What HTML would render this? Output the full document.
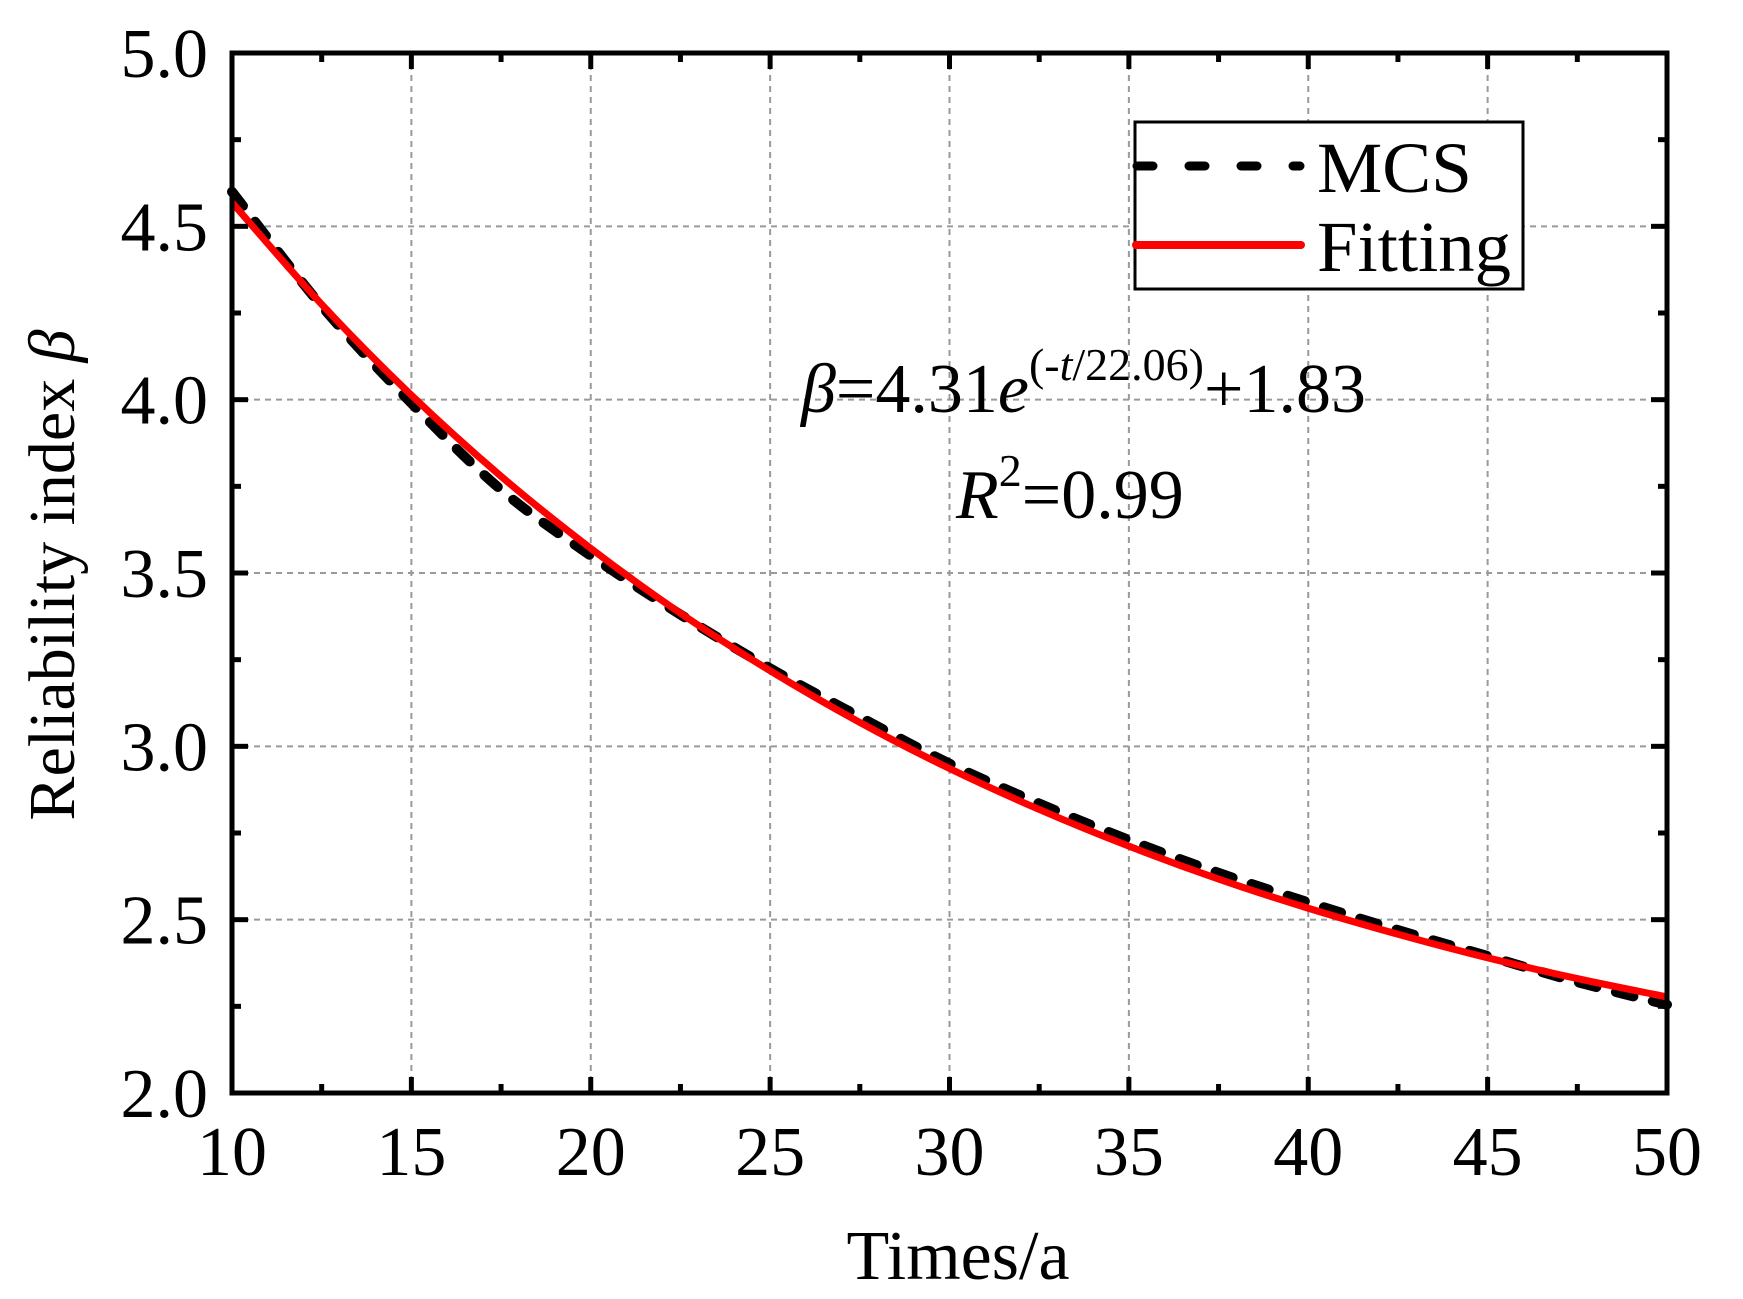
<!DOCTYPE html>
<html><head><meta charset="utf-8"><style>
html,body{margin:0;padding:0;background:#fff;}
svg{display:block;font-family:"Liberation Serif",serif;}
</style></head><body>
<svg id="chart" width="1743" height="1299" viewBox="0 0 1743 1299">
<g id="grid"></g>
<g id="series"></g>
<g id="axes"></g>
<g>
  <rect x="1135" y="122" width="388" height="167" fill="#fff" stroke="#000" stroke-width="3"/>
  <line x1="1137" y1="166" x2="1300" y2="166" stroke="#000" stroke-width="9" stroke-linecap="round" stroke-dasharray="16 36"/>
  <text x="1317" y="192" font-size="72" textLength="155" lengthAdjust="spacingAndGlyphs">MCS</text>
  <line x1="1136" y1="245" x2="1301" y2="245" stroke="#f00" stroke-width="8" stroke-linecap="round"/>
  <text x="1317" y="271" font-size="72" textLength="194" lengthAdjust="spacingAndGlyphs">Fitting</text>
</g>
<text x="801" y="412" font-size="70"><tspan font-style="italic">β</tspan>=4.31<tspan font-style="italic">e</tspan><tspan font-size="46" dy="-32">(-<tspan font-style="italic">t</tspan>/22.06)</tspan><tspan dy="32">+1.83</tspan></text>
<text x="956" y="518" font-size="70"><tspan font-style="italic">R</tspan><tspan font-size="46" dy="-32">2</tspan><tspan dy="32">=0.99</tspan></text>
<text x="958" y="1279" font-size="70" text-anchor="middle">Times/a</text>
<text transform="translate(74,575) rotate(-90)" font-size="66" text-anchor="middle">Reliability index <tspan font-style="italic">β</tspan></text>
</svg>
<script>
const xTicks=[10,15,20,25,30,35,40,45,50];
const yTicks=[2.0,2.5,3.0,3.5,4.0,4.5,5.0];
const yTickLabels=["2.0","2.5","3.0","3.5","4.0","4.5","5.0"];
const times=[10,12.5,15,17.5,20,22.5,25,27.5,30,32.5,35,37.5,40,42.5,45,47.5,50];
const mcsValues=[4.60,4.27,3.99,3.74,3.55,3.38,3.225,3.085,2.95,2.835,2.73,2.635,2.55,2.47,2.395,2.32,2.255];
const fitValues=[4.569,4.275,4.013,3.779,3.571,3.384,3.218,3.069,2.936,2.818,2.712,2.617,2.533,2.458,2.390,2.330,2.277];

const L=232,R=1667,T=53,B=1093;
const xs=v=>L+(v-10)/40*(R-L);
const ys=v=>B-(v-2)/3*(B-T);
const NS="http://www.w3.org/2000/svg";
function mk(tag,attrs,parent){const e=document.createElementNS(NS,tag);for(const k in attrs)e.setAttribute(k,attrs[k]);parent.appendChild(e);return e;}
const grid=document.getElementById('grid'),axes=document.getElementById('axes'),series=document.getElementById('series');
xTicks.slice(1,-1).forEach(v=>{
  const g=mk('line',{x1:xs(v),x2:xs(v),y1:T,y2:B,stroke:'#9a9a9a','stroke-width':2,'stroke-dasharray':'6 5'},grid);
  
  
});
yTicks.slice(1,-1).forEach(v=>{
  const g=mk('line',{x1:L,x2:R,y1:ys(v),y2:ys(v),stroke:'#9a9a9a','stroke-width':2,'stroke-dasharray':'6 5'},grid);
  
  
});
function pathD(xv,yv){
  const p=xv.map((x,i)=>[xs(x),ys(yv[i])]);
  let d='M'+p[0][0]+','+p[0][1];
  for(let i=0;i<p.length-1;i++){
    const p0=p[i-1]||p[i],p1=p[i],p2=p[i+1],p3=p[i+2]||p2;
    const c1=[p1[0]+(p2[0]-p0[0])/6,p1[1]+(p2[1]-p0[1])/6];
    const c2=[p2[0]-(p3[0]-p1[0])/6,p2[1]-(p3[1]-p1[1])/6];
    d+=' C'+c1+' '+c2+' '+p2;
  }
  return d;
}
const mcs=mk('path',{d:pathD(times,mcsValues),fill:'none',stroke:'#000','stroke-width':10,'stroke-linecap':'round','stroke-dasharray':'18 20'},series);


const fit=mk('path',{d:pathD(times,fitValues),fill:'none',stroke:'#f00','stroke-width':7},series);


const fr=mk('rect',{x:L,y:T,width:R-L,height:B-T,fill:'none',stroke:'#000','stroke-width':5},axes);


for(let v=10;v<=50;v+=2.5){
  const major=(v%5===0),len=major?16:9;
  const t1=mk('line',{x1:xs(v),x2:xs(v),y1:B,y2:B-len,stroke:'#000','stroke-width':5},axes);
  
  
  const t2=mk('line',{x1:xs(v),x2:xs(v),y1:T,y2:T+len,stroke:'#000','stroke-width':5},axes);
  
  
}
for(let v=2;v<=5.001;v+=0.25){
  const major=(Math.abs(v*2-Math.round(v*2))<1e-6),len=major?16:9;
  const t1=mk('line',{x1:L,x2:L+len,y1:ys(v),y2:ys(v),stroke:'#000','stroke-width':5},axes);
  
  
  const t2=mk('line',{x1:R,x2:R-len,y1:ys(v),y2:ys(v),stroke:'#000','stroke-width':5},axes);
  
  
}
xTicks.forEach(v=>{
  const t=mk('text',{x:xs(v),y:1175,'font-size':70,'text-anchor':'middle'},axes);
  t.textContent=v;
  
  
});
yTicks.forEach((v,i)=>{
  const t=mk('text',{x:208,y:ys(v)+24,'font-size':70,'text-anchor':'end'},axes);
  t.textContent=yTickLabels[i];
  
  
});
</script>
</body></html>
